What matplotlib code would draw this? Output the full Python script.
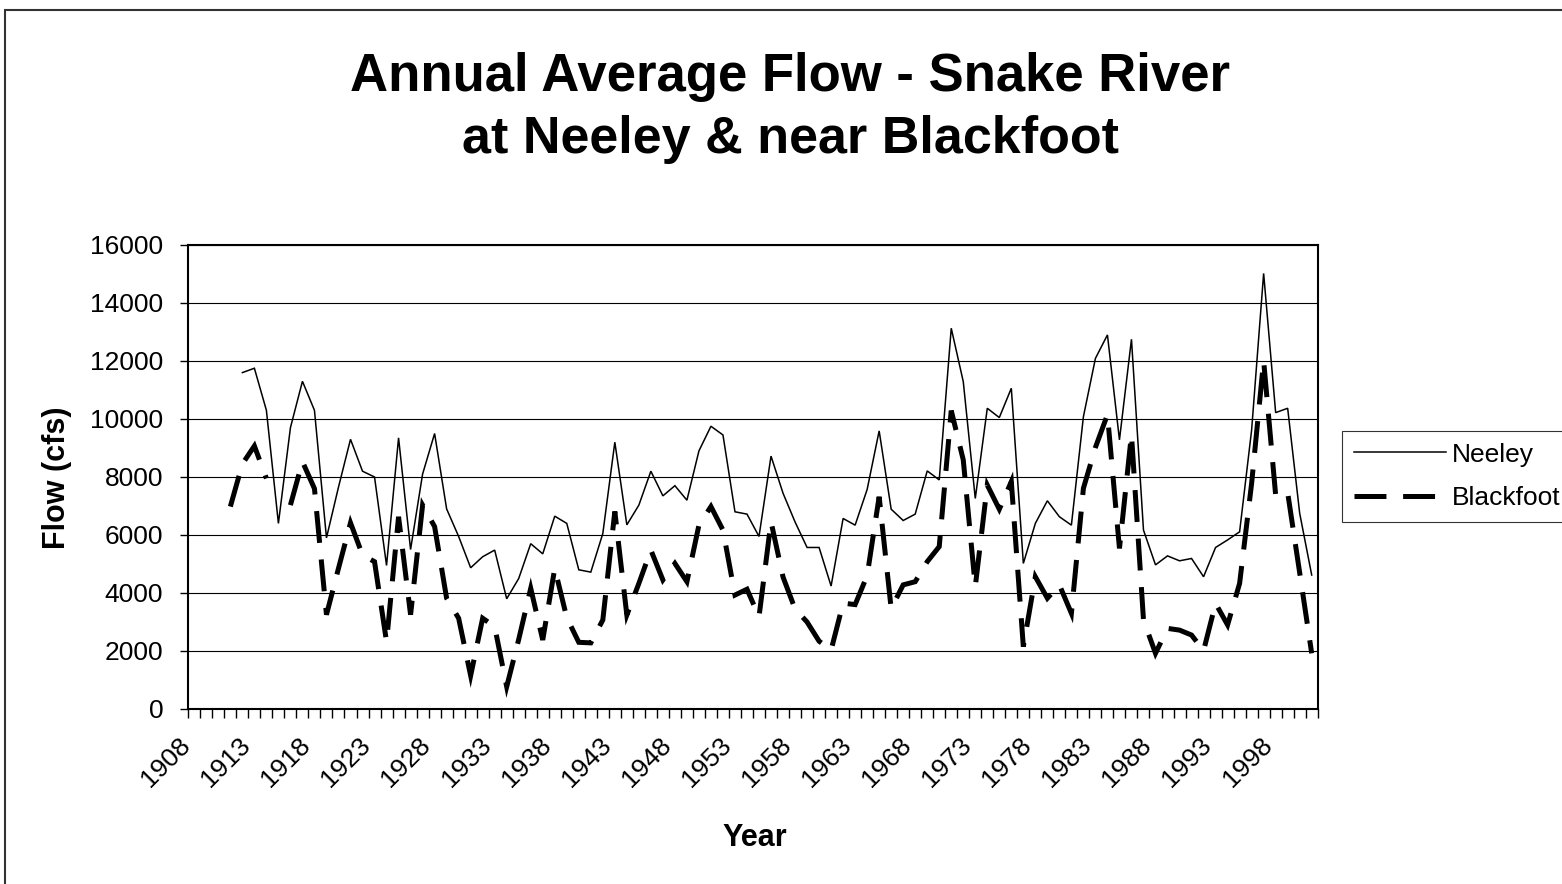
import numpy as np
import matplotlib.pyplot as plt
from matplotlib.patches import Rectangle
from matplotlib.transforms import ScaledTranslation

plt.rcParams['font.family'] = ['Liberation Sans', 'DejaVu Sans']
plt.rcParams['lines.scale_dashes'] = False

# Categorias del eje x (años)
anios = list(range(1908, 2002))

# Caudal medio anual (cfs) - Neeley, desde 1912
neeley = [np.nan] * 4 + [
    11600, 11750, 10300, 6400, 9700, 11300, 10300, 5900, 7650, 9300,
    8200, 8000, 4950, 9350, 5500, 8100, 9500, 6900, 5950, 4870,
    5250, 5480, 3800, 4500, 5700, 5350, 6650, 6400, 4800, 4720,
    6050, 9200, 6350, 7030, 8200, 7350, 7700, 7200, 8900, 9750,
    9450, 6800, 6720, 5950, 8720, 7440, 6450, 5570, 5570, 4240,
    6570, 6340, 7570, 9590, 6890, 6500, 6720, 8210, 7900, 13130,
    11290, 7260, 10370, 10050, 11060, 5020, 6400, 7180, 6630, 6340,
    10080, 12090, 12900, 9280, 12750, 6170, 4970, 5280, 5110, 5190,
    4560, 5570, 5830, 6110, 9620, 15020, 10220, 10370, 6750, 4620,
]

# Caudal medio anual (cfs) - near Blackfoot, desde 1911 (falta 1915)
blackfoot = [np.nan] * 3 + [
    6980, 8450, 9070, 7950, np.nan, 7030, 8530, 7600, 3250, 4850,
    6420, 5310, 5080, 2320, 6630, 3250, 7030, 6290, 3820, 3130,
    1150, 3130, 2840, 770, 2400, 4160, 2380, 4850, 3150, 2300,
    2280, 3070, 6810, 3240, 4330, 5480, 4450, 5020, 4390, 6340,
    6980, 6170, 3930, 4130, 3180, 6460, 4550, 3450, 3000, 2340,
    2030, 3650, 3600, 4600, 7320, 3460, 4280, 4390, 5080, 5600,
    10290, 8590, 4220, 7720, 6890, 7840, 2150, 4560, 3820, 4280,
    3300, 7610, 9020, 10150, 5540, 9470, 3070, 1920, 2780, 2720,
    2550, 2010, 3640, 2900, 4330, 7780, 12010, 7380, 7460, 4700,
    1920,
]

W, H = 1562, 884
fig = plt.figure(figsize=(W / 100, H / 100), dpi=100)

# borde del area del grafico (se sale por la derecha y por abajo)
fig.add_artist(Rectangle((4.5 / W, -0.5), 2, 1.5 - 10 / H, transform=fig.transFigure,
                         fill=False, edgecolor='#333333', lw=1.5, clip_on=False))

ax = fig.add_axes([188.3 / W, 1 - 709 / H, (1317.7 - 188.3) / W, (709 - 245) / H])
x = np.arange(len(anios))
ax.plot(x, neeley, color='black', lw=1.1, label='Neeley', solid_joinstyle='miter')
ax.plot(x, blackfoot, color='black', lw=3.6, dashes=(23, 12), dash_capstyle='butt',
        dash_joinstyle='miter', label='Blackfoot')

ax.set_xlim(-0.5, len(anios) - 0.5)
ax.set_ylim(0, 16000)
ax.set_yticks(range(0, 16001, 2000))
ax.yaxis.grid(True, color='black', lw=0.8)
ax.set_axisbelow(True)

# marcas entre categorias, etiquetas cada 5 años
ax.set_xticks(np.arange(len(anios) + 1) - 0.5)
ax.set_xticklabels([])
ax.set_xticks(x[::5], [str(a) for a in anios[::5]], minor=True)
ax.tick_params(axis='x', which='major', length=6.5, width=1, direction='out')
ax.tick_params(axis='x', which='minor', length=0, pad=0, labelsize=19)
ax.tick_params(axis='y', length=6, width=1, direction='out', pad=12, labelsize=19)

desplaza = ScaledTranslation(-0.16, -0.24, fig.dpi_scale_trans)
for etiqueta in ax.get_xticklabels(minor=True):
    etiqueta.set_rotation(45)
    etiqueta.set_ha('right')
    etiqueta.set_va('top')
    etiqueta.set_rotation_mode('anchor')
    etiqueta.set_transform(etiqueta.get_transform() + desplaza)

for lado in ax.spines.values():
    lado.set_linewidth(1.5)
    lado.set_color('black')

fig.text(790 / W, 1 - 91 / H, 'Annual Average Flow - Snake River', ha='center',
         va='baseline', fontsize=38, fontweight='bold')
fig.text(791 / W, 1 - 153 / H, 'at Neeley & near Blackfoot', ha='center',
         va='baseline', fontsize=37.5, fontweight='bold')
fig.text(57 / W, 1 - 478 / H, 'Flow (cfs)', rotation=90, ha='center', va='center',
         fontsize=22, fontweight='bold')
fig.text(755 / W, 1 - 838 / H, 'Year', ha='center', va='center',
         fontsize=22, fontweight='bold')

leyenda = fig.legend(loc='upper left', bbox_to_anchor=(1342 / W, 1 - 430.7 / H),
                     fontsize=19, frameon=True, fancybox=False, edgecolor='black',
                     handlelength=3.5, handletextpad=0.2, borderpad=0.45,
                     labelspacing=0.75, borderaxespad=0)
leyenda.get_frame().set_linewidth(0.8)

fig.savefig('out.png', dpi=100)
